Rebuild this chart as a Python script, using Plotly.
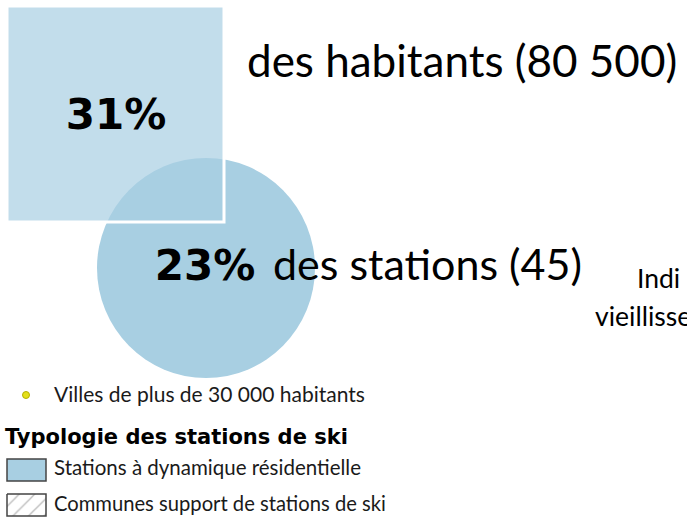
import plotly.graph_objects as go

# share figures shown in the infographic
share_labels = ["31%", "23%"]
share_texts = ["des habitants (80 500)", "des stations (45)"]
side_texts = ["Indi", "vieillisse"]

legend_point_label = "Villes de plus de 30 000 habitants"
legend_title = "Typologie des stations de ski"
legend_items = ["Stations à dynamique résidentielle", "Communes support de stations de ski"]

BLUE = "#a8cfe2"
FONT = "Lato"
BOLD = "DejaVu Sans"

fig = go.Figure()

# circle (stations) below, translucent square (habitants) over it
fig.add_shape(type="circle", x0=97, x1=315, y0=158, y1=378,
              fillcolor=BLUE, line_width=0, layer="below")
fig.add_shape(type="rect", x0=7, x1=224, y0=6, y1=222, layer="below",
              fillcolor="rgba(168,207,226,0.7)", line=dict(color="white", width=3))

fig.add_trace(go.Scatter(
    x=[116, 205], y=[118, 269], mode="text", text=share_labels,
    textfont=dict(family=BOLD, size=42, color="black", weight="bold"),
    hoverinfo="skip", showlegend=False))
fig.add_trace(go.Scatter(
    x=[247, 273], y=[66, 269], mode="text", text=share_texts, textposition="middle right",
    textfont=dict(family=FONT, size=[44, 43], color="black"),
    hoverinfo="skip", showlegend=False))
fig.add_trace(go.Scatter(
    x=[637, 595], y=[281, 319], mode="text", text=side_texts, textposition="middle right",
    textfont=dict(family=FONT, size=26.5, color="black"),
    hoverinfo="skip", showlegend=False))

# legend
fig.add_trace(go.Scatter(
    x=[26], y=[395], mode="markers",
    marker=dict(size=7, color="#e4e01a", line=dict(color="#b5b000", width=1)),
    hoverinfo="skip", showlegend=False))
fig.add_trace(go.Scatter(
    x=[54, 54, 54], y=[397, 470, 506], mode="text",
    text=[legend_point_label, legend_items[0], legend_items[1]], textposition="middle right",
    textfont=dict(family=FONT, size=[21, 20.5, 20.2], color="#1a1a1a"),
    hoverinfo="skip", showlegend=False))
fig.add_trace(go.Scatter(
    x=[5], y=[439], mode="text", text=[legend_title], textposition="middle right",
    textfont=dict(family=BOLD, size=21, color="black", weight="bold"),
    hoverinfo="skip", showlegend=False))
fig.add_shape(type="rect", x0=7, x1=46, y0=459, y1=481,
              fillcolor=BLUE, line=dict(color="#444444", width=1.5))
fig.add_trace(go.Scatter(
    x=[7, 46, 46, 7, 7], y=[494, 494, 516, 516, 494], mode="lines", fill="toself",
    fillcolor="white", fillpattern=dict(shape="/", fgcolor="#777777", size=11, solidity=0.12),
    line=dict(color="#444444", width=1.5),
    hoverinfo="skip", showlegend=False))

fig.update_layout(
    width=687, height=517, margin=dict(l=0, r=0, t=0, b=0),
    paper_bgcolor="white", plot_bgcolor="white",
    xaxis=dict(range=[0, 687], visible=False, fixedrange=True),
    yaxis=dict(range=[517, 0], visible=False, fixedrange=True),
)
fig.write_html("out.html", config={"displayModeBar": False},
               post_script="document.body.style.margin='0';document.body.style.overflow='hidden';")
